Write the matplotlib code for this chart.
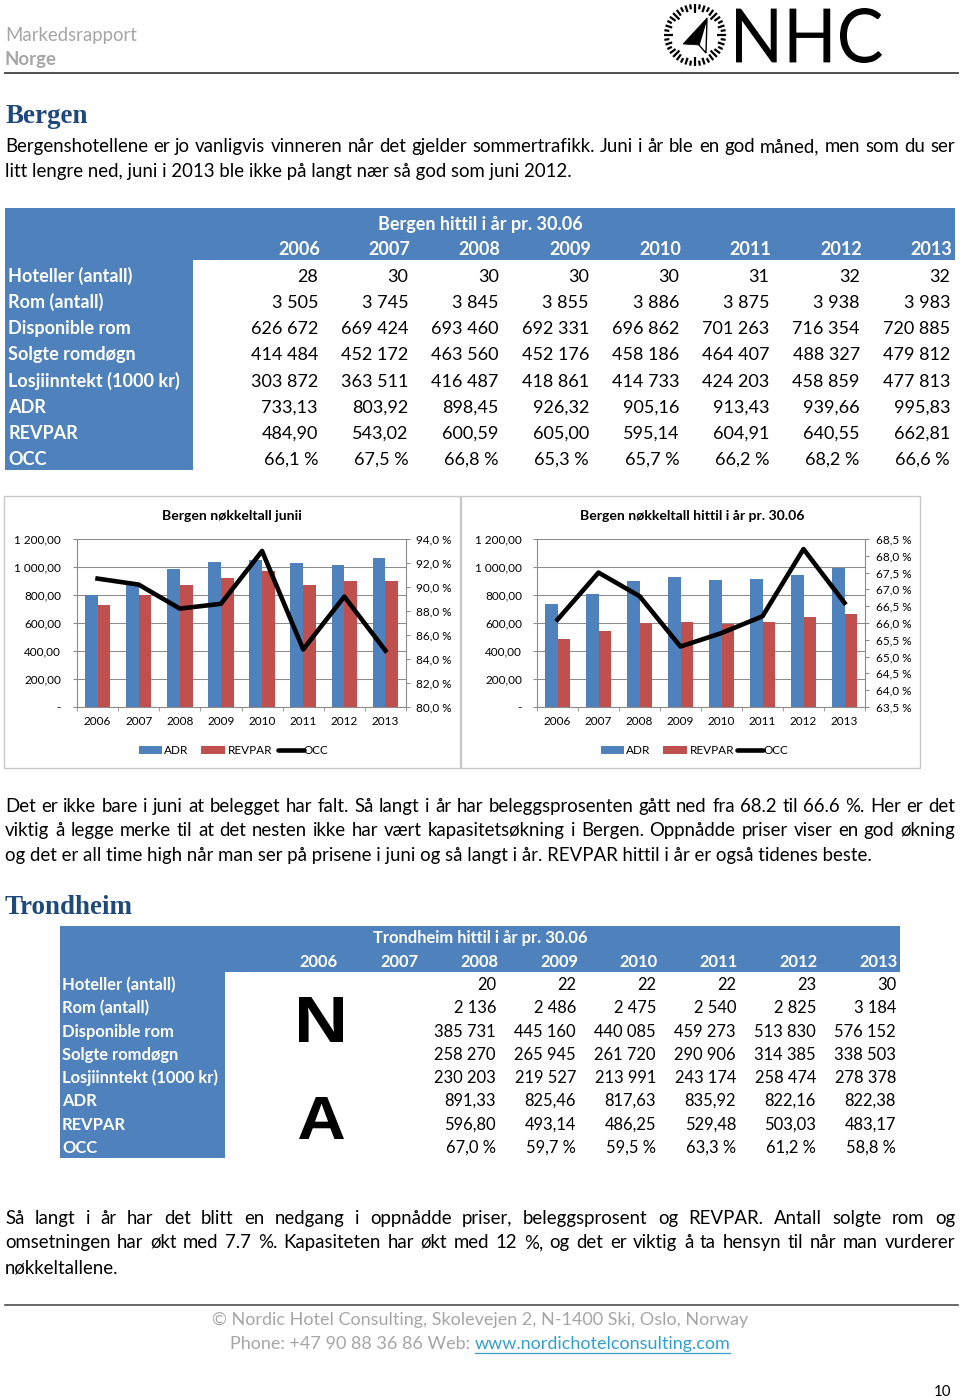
import numpy as np
import matplotlib
matplotlib.use('Agg')
import matplotlib.pyplot as plt
from matplotlib.patches import Rectangle, Polygon, PathPatch
from matplotlib.textpath import TextPath
from matplotlib.font_manager import FontProperties
from matplotlib.transforms import Affine2D

# ---------------- data ----------------
years = ['2006', '2007', '2008', '2009', '2010', '2011', '2012', '2013']
row_labels = ['Hoteller (antall)', 'Rom (antall)', 'Disponible rom', 'Solgte romdøgn',
              'Losjiinntekt (1000 kr)', 'ADR', 'REVPAR', 'OCC']

bergen_hotels = [28, 30, 30, 30, 30, 31, 32, 32]
bergen_rooms = [3505, 3745, 3845, 3855, 3886, 3875, 3938, 3983]
bergen_avail = [626672, 669424, 693460, 692331, 696862, 701263, 716354, 720885]
bergen_sold = [414484, 452172, 463560, 452176, 458186, 464407, 488327, 479812]
bergen_income = [303872, 363511, 416487, 418861, 414733, 424203, 458859, 477813]
bergen_adr = [733.13, 803.92, 898.45, 926.32, 905.16, 913.43, 939.66, 995.83]
bergen_revpar = [484.90, 543.02, 600.59, 605.00, 595.14, 604.91, 640.55, 662.81]
bergen_occ = [66.1, 67.5, 66.8, 65.3, 65.7, 66.2, 68.2, 66.6]

june_adr = [801, 880, 983, 1035, 1050, 1026, 1016, 1066]
june_revpar = [728, 801, 871, 918, 971, 871, 902, 902]
june_occ = [90.7, 90.2, 88.2, 88.6, 93.0, 84.8, 89.2, 84.7]

tr_years = ['2008', '2009', '2010', '2011', '2012', '2013']
tr_hotels = [20, 22, 22, 22, 23, 30]
tr_rooms = [2136, 2486, 2475, 2540, 2825, 3184]
tr_avail = [385731, 445160, 440085, 459273, 513830, 576152]
tr_sold = [258270, 265945, 261720, 290906, 314385, 338503]
tr_income = [230203, 219527, 213991, 243174, 258474, 278378]
tr_adr = [891.33, 825.46, 817.63, 835.92, 822.16, 822.38]
tr_revpar = [596.80, 493.14, 486.25, 529.48, 503.03, 483.17]
tr_occ = [67.0, 59.7, 59.5, 63.3, 61.2, 58.8]

para1 = ["Bergenshotellene er jo vanligvis vinneren når det gjelder sommertrafikk. Juni i år ble en god måned, men som du ser",
         "litt lengre ned, juni i 2013 ble ikke på langt nær så god som juni 2012."]
para2 = ["Det er ikke bare i juni at belegget har falt. Så langt i år har beleggsprosenten gått ned fra 68.2 til 66.6 %. Her er det",
         "viktig å legge merke til at det nesten ikke har vært kapasitetsøkning i Bergen. Oppnådde priser viser en god økning",
         "og det er all time high når man ser på prisene i juni og så langt i år. REVPAR hittil i år er også tidenes beste."]
para3 = ["Så langt i år har det blitt en nedgang i oppnådde priser, beleggsprosent og REVPAR. Antall solgte rom og",
         "omsetningen har økt med 7.7 %. Kapasiteten har økt med 12 %, og det er viktig å ta hensyn til når man vurderer",
         "nøkkeltallene."]

# ---------------- setup ----------------
W, H = 960, 1400
plt.rcParams['font.family'] = ['Lato', 'DejaVu Sans']
fig = plt.figure(figsize=(W / 100, H / 100), dpi=100)
bg = fig.add_axes([0, 0, 1, 1], zorder=0)
bg.set_xlim(0, W)
bg.set_ylim(H, 0)
bg.axis('off')
R = fig.canvas.get_renderer()

TBLUE = '#4f81bd'
C_ADR = '#4f81bd'
C_REV = '#c0504d'
GRAY = '#a6a6a6'
HEAD = '#1f497d'
AXC = '#8c8c8c'
BODY = 18.7


def pt(px):
    return px * 0.72


def fint(v):
    return f"{v:,}".replace(',', ' ')


def fdec(v):
    return f"{v:,.2f}".replace(',', ' ').replace('.', ',')


def fpct(v):
    return f"{v:.1f} %".replace('.', ',')


def txt(x, y, s, size, **kw):
    kw.setdefault('va', 'baseline')
    return bg.text(x, y, s, fontsize=pt(size), **kw)


def width_of(t):
    return t.get_window_extent(R).width


def justify(line, x0, x1, y, size, color='black'):
    words = line.split(' ')
    while True:
        objs = [txt(x0, y, w, size, color=color, ha='left') for w in words]
        ws = [width_of(o) for o in objs]
        gap = (x1 - x0 - sum(ws)) / (len(words) - 1)
        if gap >= 0.17 * size:
            break
        for o in objs:
            o.remove()
        size *= 0.985
    x = x0
    for o, w in zip(objs, ws):
        o.set_x(x)
        x += w + gap
    return size


def fit_path(s, box, family, weight='normal', color='black'):
    x0, y0, x1, y1 = box
    tp = TextPath((0, 0), s, size=100, prop=FontProperties(family=family, weight=weight))
    bb = tp.get_extents()
    sx = (x1 - x0) / bb.width
    sy = (y1 - y0) / bb.height
    tr = Affine2D().translate(-bb.x0, -bb.y0).scale(sx, -sy).translate(x0, y1)
    p = tr.transform_path(tp)
    bg.add_patch(PathPatch(p, fc=color, ec='none'))


# ---------------- header ----------------
txt(5, 41, 'Markedsrapport', 18.6, color=GRAY)
txt(5, 65, 'Norge', 18.6, color=GRAY, weight='bold')
bg.plot([5, 958], [72.5, 72.5], color='#505050', lw=1.4)

fit_path('NHC', (736, 8, 882, 63), 'Lato')
cx, cy, rr = 695, 35, 31
for k in range(40):
    a = np.deg2rad(90 - k * 9)
    if k % 5 == 0:
        r0 = rr - 9
    elif k % 2:
        r0 = rr - 5
    else:
        r0 = rr - 7
    bg.plot([cx + r0 * np.cos(a), cx + rr * np.cos(a)],
            [cy - r0 * np.sin(a), cy - rr * np.sin(a)], color='black', lw=1.6,
            solid_capstyle='butt')
bg.add_patch(Polygon([(707, 18), (683, 44), (699, 45)], closed=True, fc='black', ec='black', lw=0.5))
bg.add_patch(Polygon([(707, 18), (699, 45), (706, 53)], closed=True, fc='white', ec='black', lw=1.0))

# ---------------- Bergen ----------------
txt(5, 123, 'Bergen', 27, color=HEAD, weight='bold', family='Liberation Serif')
justify(para1[0], 5, 955, 152, BODY)
txt(5, 177, para1[1], BODY)

# table
bg.add_patch(Rectangle((5, 208), 950, 52, fc=TBLUE, ec='none'))
bg.add_patch(Rectangle((5, 260), 188, 210, fc=TBLUE, ec='none'))
txt(480, 230, 'Bergen hittil i år pr. 30.06', 18, color='white', weight='bold', ha='center')
b_right = [320 + 90.3 * i for i in range(8)]
for i, yr in enumerate(years):
    txt(b_right[i], 255, yr, 18, color='white', weight='bold', ha='right')
b_rows = [[fint(v) for v in bergen_hotels], [fint(v) for v in bergen_rooms],
          [fint(v) for v in bergen_avail], [fint(v) for v in bergen_sold],
          [fint(v) for v in bergen_income], [fdec(v) for v in bergen_adr],
          [fdec(v) for v in bergen_revpar], [fpct(v) for v in bergen_occ]]
for r, lab in enumerate(row_labels):
    yb = round(282 + 26.15 * r)
    txt(8, yb, lab, 18, color='white', weight='bold', ha='left')
    for i, s in enumerate(b_rows[r]):
        txt(b_right[i] - 2, yb, s, 18, ha='right', color='black')


# ---------------- charts ----------------
def fmt_left(v):
    return '-' if v == 0 else fdec(v)


def chart(px, adr, revpar, occ, rticks, lpad, rpad):
    x0, y0, x1, y1 = px
    ax = fig.add_axes([x0 / W, 1 - y1 / H, (x1 - x0) / W, (y1 - y0) / H], zorder=2)
    idx = np.arange(len(years))
    ax.bar(idx - 0.155, adr, width=0.31, color=C_ADR, zorder=2)
    ax.bar(idx + 0.155, revpar, width=0.31, color=C_REV, zorder=2)
    ax.set_xlim(-0.5, len(years) - 0.5)
    ax.set_ylim(0, 1200)
    yt = np.arange(0, 1201, 200)
    ax.set_yticks(yt)
    ax.set_yticklabels([fmt_left(v) for v in yt])
    ax.yaxis.grid(True, color=AXC, lw=0.75, zorder=0)
    ax.set_axisbelow(True)
    ax.set_xticks(idx)
    ax.set_xticklabels(years)
    ax.set_xticks(np.arange(-0.5, len(years)), minor=True)
    ax.tick_params(axis='x', which='major', length=0, pad=pt(9), labelsize=pt(11.8))
    ax.tick_params(axis='x', which='minor', length=pt(4), color=AXC, direction='out')
    ax.tick_params(axis='y', length=pt(4), color=AXC, labelsize=pt(11.8), pad=pt(lpad))
    for s in ['top', 'right']:
        ax.spines[s].set_visible(False)
    for s in ['left', 'bottom']:
        ax.spines[s].set_color(AXC)
    ax2 = ax.twinx()
    ax2.plot(idx, occ, color='black', lw=3.3, zorder=3)
    ax2.set_ylim(rticks[0], rticks[-1])
    ax2.set_yticks(rticks)
    ax2.set_yticklabels([fpct(v) for v in rticks])
    ax2.tick_params(axis='y', length=pt(4), color=AXC, labelsize=pt(11.8), pad=pt(rpad))
    for s in ['top', 'left', 'bottom']:
        ax2.spines[s].set_visible(False)
    ax2.spines['right'].set_color(AXC)
    return ax, ax2


# chart frames
bg.add_patch(Rectangle((4, 495.5), 456, 272, fc='none', ec='#c8c8c8', lw=1))
bg.add_patch(Rectangle((461, 495.5), 459, 272, fc='none', ec='#c8c8c8', lw=1))

chart((77, 539, 406, 707), june_adr, june_revpar, june_occ,
      np.round(np.arange(80, 94.01, 2), 1), 12, 6)
chart((537, 539, 865, 707), bergen_adr, bergen_revpar, bergen_occ,
      np.round(np.arange(63.5, 68.51, 0.5), 1), 11, 7)

txt(232, 520, 'Bergen nøkkeltall junii', 14, weight='bold', ha='center')
txt(692, 520, 'Bergen nøkkeltall hittil i år pr. 30.06', 14, weight='bold', ha='center')


def legend(xa, xr, xo):
    bg.add_patch(Rectangle((xa, 746), 23, 8, fc=C_ADR, ec='none'))
    txt(xa + 25, 754, 'ADR', 11.8)
    bg.add_patch(Rectangle((xr, 746), 24, 8, fc=C_REV, ec='none'))
    txt(xr + 27, 754, 'REVPAR', 11.8)
    bg.plot([xo, xo + 26], [750, 750], color='black', lw=3.3, solid_capstyle='round')
    txt(xo + 26, 754, 'OCC', 11.8)


legend(139, 201, 278)
legend(601, 663, 737)

justify(para2[0], 5, 955, 812, BODY)
justify(para2[1], 5, 955, 836, BODY)
txt(5, 861, para2[2], BODY)

# ---------------- Trondheim ----------------
txt(5, 914, 'Trondheim', 27, color=HEAD, weight='bold', family='Liberation Serif')
bg.add_patch(Rectangle((60, 926), 840, 46, fc=TBLUE, ec='none'))
bg.add_patch(Rectangle((60, 972), 165, 186, fc=TBLUE, ec='none'))
txt(480, 943, 'Trondheim hittil i år pr. 30.06', 16.5, color='white', weight='bold', ha='center')
t_right = [338 + 80 * i for i in range(8)]
for i, yr in enumerate(years):
    txt(t_right[i], 967, yr, 16.5, color='white', weight='bold', ha='right')
t_rows = [[fint(v) for v in tr_hotels], [fint(v) for v in tr_rooms],
          [fint(v) for v in tr_avail], [fint(v) for v in tr_sold],
          [fint(v) for v in tr_income], [fdec(v) for v in tr_adr],
          [fdec(v) for v in tr_revpar], [fpct(v) for v in tr_occ]]
for r, lab in enumerate(row_labels):
    yb = round(990 + 23.3 * r)
    txt(62, yb, lab, 16.5, color='white', weight='bold', ha='left')
    for j, s in enumerate(t_rows[r]):
        i = years.index(tr_years[j])
        txt(t_right[i] - 2, yb, s, 16.5, ha='right', color='black')
fit_path('N', (299, 997, 343, 1042), 'Liberation Sans', weight='bold')
fit_path('A', (299, 1097, 344, 1139), 'Liberation Sans', weight='bold')

justify(para3[0], 5, 955, 1224, BODY)
justify(para3[1], 5, 955, 1248, BODY)
txt(5, 1273, para3[2], BODY)

# ---------------- footer ----------------
bg.plot([5, 958], [1304.5, 1304.5], color='#505050', lw=1.2)
txt(480, 1325, '© Nordic Hotel Consulting, Skolevejen 2, N-1400 Ski, Oslo, Norway', 18,
    color=GRAY, ha='center')
t1 = txt(0, 1349, 'Phone: +47 90 88 36 86 Web: ', 18, color=GRAY, ha='left')
t2 = txt(0, 1349, 'www.nordichotelconsulting.com', 18, color='#31a0cf', ha='left')
w1, w2 = width_of(t1), width_of(t2)
xs = 480 - (w1 + w2) / 2
t1.set_x(xs)
t2.set_x(xs + w1)
bg.plot([xs + w1, xs + w1 + w2], [1352.5, 1352.5], color='#31a0cf', lw=0.9)
txt(951, 1396, '10', 15, ha='right')

fig.savefig('out.png', dpi=100)
